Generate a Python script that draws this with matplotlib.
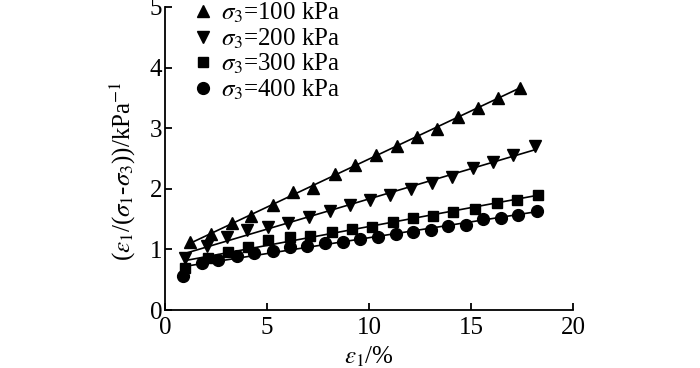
import numpy as np
import matplotlib
matplotlib.use("Agg")
import matplotlib.pyplot as plt

plt.rcParams["font.family"] = ["Liberation Serif", "DejaVu Serif"]
plt.rcParams["mathtext.fontset"] = "stix"

# data (strain %, eps1/(sig1-sig3))
x_100 = [1.23, 2.25, 3.27, 4.24, 5.31, 6.29, 7.27, 8.33, 9.31, 10.34, 11.36,
         12.34, 13.32, 14.36, 15.34, 16.32, 17.40]
y_100 = [1.12, 1.25, 1.44, 1.55, 1.74, 1.94, 2.01, 2.24, 2.39, 2.55, 2.71,
         2.86, 2.99, 3.19, 3.34, 3.50, 3.67]

x_200 = [0.98, 2.04, 3.05, 4.03, 5.06, 6.04, 7.07, 8.09, 9.07, 10.05, 11.05,
         12.08, 13.10, 14.05, 15.08, 16.10, 17.07, 18.14]
y_200 = [0.85, 1.05, 1.20, 1.32, 1.37, 1.44, 1.54, 1.63, 1.73, 1.82, 1.90,
         1.99, 2.10, 2.20, 2.35, 2.45, 2.56, 2.71]

x_300 = [0.98, 2.12, 3.10, 4.08, 5.06, 6.13, 7.11, 8.17, 9.15, 10.13, 11.19,
         12.17, 13.15, 14.13, 15.20, 16.26, 17.24, 18.27]
y_300 = [0.69, 0.85, 0.96, 1.04, 1.15, 1.20, 1.22, 1.29, 1.34, 1.37, 1.46,
         1.51, 1.55, 1.62, 1.67, 1.76, 1.82, 1.90]

x_400 = [0.90, 1.80, 2.61, 3.54, 4.38, 5.28, 6.13, 6.95, 7.84, 8.71, 9.56,
         10.42, 11.32, 12.17, 13.02, 13.89, 14.75, 15.60, 16.45, 17.32, 18.22]
y_400 = [0.56, 0.78, 0.82, 0.89, 0.94, 0.98, 1.04, 1.06, 1.11, 1.13, 1.17,
         1.21, 1.25, 1.28, 1.32, 1.39, 1.41, 1.50, 1.52, 1.57, 1.64]

series = [
    (x_100, y_100, "^", 9, r"$\sigma_3$=100 kPa"),
    (x_200, y_200, "v", 9, r"$\sigma_3$=200 kPa"),
    (x_300, y_300, "s", 7.5, r"$\sigma_3$=300 kPa"),
    (x_400, y_400, "o", 8.5, r"$\sigma_3$=400 kPa"),
]

FS = 18

fig = plt.figure(figsize=(7, 3.68), dpi=100)
ax = fig.add_axes([0.2357, 0.1576, 0.5829, 0.8234])

for xs, ys, mk, ms, lab in series:
    xs = np.array(xs)
    ys = np.array(ys)
    k, b = np.polyfit(xs, ys, 1)
    xf = np.array([xs.min(), xs.max()])
    ax.plot(xf, k * xf + b, color="black", lw=1.2, zorder=2)
    ax.plot(xs, ys, linestyle="none", marker=mk, ms=ms, color="black",
            label=lab, zorder=3)

ax.set_xlim(0, 20)
ax.set_ylim(0, 5)
ax.set_xticks([0, 5, 10, 15, 20])
ax.set_yticks([0, 1, 2, 3, 4, 5])
for s in ["top", "right"]:
    ax.spines[s].set_visible(False)
for s in ["left", "bottom"]:
    ax.spines[s].set_linewidth(1.3)
ax.tick_params(direction="in", length=5, width=1.3, labelsize=FS)
ax.tick_params(axis="x", pad=5)
ax.tick_params(axis="y", pad=2)

ax.set_xlabel(r"$\varepsilon_1$/%", fontsize=FS, labelpad=4)
ax.set_ylabel(r"($\varepsilon_1$/($\sigma_1$-$\sigma_3$))/kPa$^{-1}$",
              fontsize=FS)
ax.yaxis.set_label_coords(-0.065, 0.46)

ax.legend(loc="upper left", bbox_to_anchor=(0.035, 1.07), frameon=False,
          fontsize=FS, handlelength=0.7, handletextpad=0.35,
          labelspacing=0.05, borderpad=0.1)

fig.savefig("out.png", dpi=100)
